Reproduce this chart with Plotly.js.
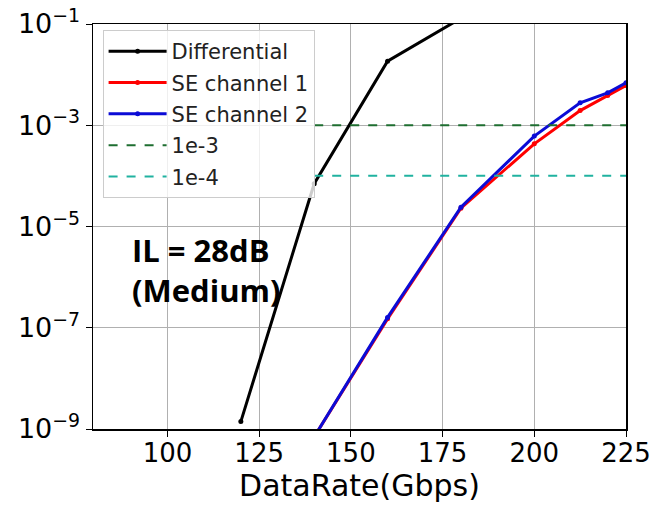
<!DOCTYPE html>
<html>
<head>
<meta charset="utf-8">
<script src="https://cdn.plot.ly/plotly-3.0.1.min.js"></script>
<style>html,body{margin:0;padding:0;background:#fff;}#chart{width:654px;height:505px;}</style>
</head>
<body>
<div id="chart"></div>
<script>
// Data
const diffX = [120, 140, 160, 180];
const diffY = [1.4e-9, 7e-5, 1.84e-2, 0.13];
const se1X = [140, 160, 180, 200, 212.5, 220, 225];
const se1Y = [7e-10, 1.5e-7, 2.3e-5, 4.3e-4, 1.95e-3, 3.86e-3, 6.1e-3];
const se2X = [140, 160, 180, 200, 212.5, 220, 225];
const se2Y = [7e-10, 1.6e-7, 2.4e-5, 6.1e-4, 2.77e-3, 4.37e-3, 6.9e-3];
const refX = [140, 225];
const ref3Y = [1e-3, 1e-3];
const ref4Y = [1e-4, 1e-4];
const yTickVals = [1e-9, 1e-7, 1e-5, 1e-3, 1e-1];
const yTickText = ['10<sup>−9</sup>', '10<sup>−7</sup>', '10<sup>−5</sup>', '10<sup>−3</sup>', '10<sup>−1</sup>'];
const xTickVals = [100, 125, 150, 175, 200, 225];

const mk = (x, y, name, color, group) => ({
  x: x, y: y, name: name, type: 'scatter', mode: 'lines+markers',
  line: {color: color, width: 3}, marker: {color: color, size: 5},
  legendgroup: group
});

const traces = [
  mk(diffX, diffY, 'Differential', '#000000', 'g1'),
  mk(se1X, se1Y, 'SE channel 1', '#ff0000', 'g2'),
  mk(se2X, se2Y, 'SE channel 2', '#0b0bd6', 'g3'),
  {x: refX, y: ref3Y, name: '1e-3', type: 'scatter', mode: 'lines',
   line: {color: '#1e6e30', width: 2, dash: 'dash'}, legendgroup: 'g4'},
  {x: refX, y: ref4Y, name: '1e-4', type: 'scatter', mode: 'lines',
   line: {color: '#20b2a0', width: 2, dash: 'dash'}, legendgroup: 'g5'}
];

const layout = {
  width: 654, height: 505,
  margin: {l: 93, r: 28, t: 24, b: 76},
  paper_bgcolor: '#ffffff', plot_bgcolor: '#ffffff',
  font: {family: 'DejaVu Sans', color: '#000000'},
  showlegend: true,
  legend: {
    x: 0.018, y: 0.985, xanchor: 'left', yanchor: 'top',
    font: {family: 'DejaVu Sans', size: 21, color: '#222'},
    bgcolor: 'rgba(255,255,255,0.8)', bordercolor: '#cccccc', borderwidth: 1,
    traceorder: 'grouped', tracegroupgap: 1, itemwidth: 58
  },
  xaxis: {
    range: [79.7, 225], tickmode: 'array', tickvals: xTickVals,
    showgrid: true, gridcolor: '#b0b0b0', gridwidth: 1,
    ticks: 'outside', ticklen: 6, tickwidth: 1, tickcolor: '#000',
    showline: true, linecolor: '#000', linewidth: 1.5, mirror: true,
    zeroline: false, tickfont: {size: 26, family: 'DejaVu Sans'},
    ticklabelstandoff: -6,
    title: {text: 'DataRate(Gbps)', font: {size: 30, family: 'DejaVu Sans'}, standoff: 0}
  },
  yaxis: {
    type: 'log', range: [-9, -1], tickmode: 'array', tickvals: yTickVals, ticktext: yTickText,
    showgrid: true, gridcolor: '#b0b0b0', gridwidth: 1,
    ticks: 'outside', ticklen: 6, tickwidth: 1, tickcolor: '#000',
    showline: true, linecolor: '#000', linewidth: 1.5, mirror: true,
    zeroline: false, tickfont: {size: 27, family: 'DejaVu Sans'}
  },
  annotations: [{
    xref: 'paper', yref: 'paper', x: 0.07, y: 0.393, xanchor: 'left', yanchor: 'middle',
    align: 'left', showarrow: false,
    text: '<b>IL = 28dB</b><br><b>(Medium)</b>',
    font: {family: 'Open Sans', size: 31, color: '#000'}
  }]
};

Plotly.newPlot('chart', traces, layout, {displayModeBar: false, staticPlot: true});
</script>
</body>
</html>
